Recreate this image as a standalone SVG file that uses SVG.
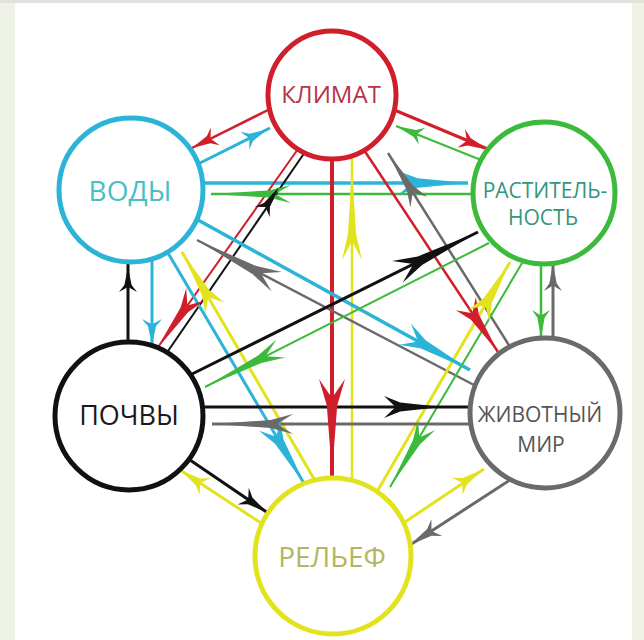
<svg xmlns="http://www.w3.org/2000/svg" xmlns:xlink="http://www.w3.org/1999/xlink" width="644" height="640" viewBox="0 0 644 640">
<style>
.ln{fill:none;stroke-linecap:butt}
.r{stroke:#d01f2a}.c{stroke:#2bb4d7}.g{stroke:#3cba3c}.k{stroke:#111}.s{stroke:#6a6a6a}.y{stroke:#e2e31d}
.fr{fill:#d01f2a}.fc{fill:#2bb4d7}.fg{fill:#3cba3c}.fk{fill:#111}.fs{fill:#6a6a6a}.fy{fill:#e2e31d}
.node circle{fill:#fff;stroke-width:5}
.node text{font-family:"Open Sans","Noto Sans","Liberation Sans",sans-serif;text-anchor:middle}
</style>
<defs>
<path id="ah" d="M0,0 L-0.72,-0.4 L-1,-1 L-0.8,0 L-1,1 L-0.72,0.4 Z"/>
</defs>
<rect x="0" y="0" width="644" height="640" fill="#fff"/>
<rect x="0" y="0" width="15" height="640" fill="#eef1e6"/>
<rect x="632" y="0" width="12" height="640" fill="#eef1e4"/>
<rect x="0" y="0" width="644" height="3" fill="#e2e1dc"/>
<g id="connectors">
<line class="ln r" stroke-width="2.5" x1="270" y1="109" x2="192" y2="148"/>
<line class="ln c" stroke-width="3" x1="198" y1="164" x2="270" y2="128"/>
<line class="ln r" stroke-width="3" x1="392" y1="109" x2="490" y2="150"/>
<line class="ln g" stroke-width="2" x1="486" y1="162" x2="396" y2="126"/>
<line class="ln c" stroke-width="3.5" x1="200" y1="183" x2="468" y2="183"/>
<line class="ln g" stroke-width="2.5" x1="476" y1="194" x2="211" y2="194"/>
<line class="ln r" stroke-width="4" x1="332" y1="155" x2="332" y2="478"/>
<line class="ln y" stroke-width="2.5" x1="352" y1="480" x2="352" y2="155"/>
<line class="ln r" stroke-width="2" x1="298" y1="149" x2="156" y2="350"/>
<line class="ln k" stroke-width="2" x1="166" y1="354" x2="305" y2="152"/>
<line class="ln r" stroke-width="2.5" x1="364" y1="150" x2="498" y2="352"/>
<line class="ln s" stroke-width="2.5" x1="512" y1="350" x2="388" y2="153"/>
<line class="ln c" stroke-width="3" x1="152" y1="258" x2="152" y2="345"/>
<line class="ln k" stroke-width="3" x1="128" y1="344" x2="128" y2="262"/>
<line class="ln c" stroke-width="3.5" x1="198" y1="220" x2="470" y2="370"/>
<line class="ln s" stroke-width="2.5" x1="474" y1="385" x2="197" y2="240"/>
<line class="ln c" stroke-width="3" x1="168" y1="253" x2="305" y2="485"/>
<line class="ln y" stroke-width="3" x1="317" y1="484" x2="182" y2="252"/>
<line class="ln k" stroke-width="3" x1="190" y1="375" x2="478" y2="232"/>
<line class="ln g" stroke-width="2" x1="489" y1="243" x2="205" y2="387"/>
<line class="ln g" stroke-width="2.5" x1="541" y1="260" x2="541" y2="338"/>
<line class="ln s" stroke-width="3" x1="553" y1="340" x2="553" y2="262"/>
<line class="ln g" stroke-width="2" x1="525" y1="258" x2="390" y2="487"/>
<line class="ln y" stroke-width="3" x1="378" y1="490" x2="510" y2="262"/>
<line class="ln k" stroke-width="3" x1="200" y1="407" x2="470" y2="407"/>
<line class="ln s" stroke-width="3" x1="470" y1="424" x2="212" y2="424"/>
<line class="ln k" stroke-width="3" x1="190" y1="460" x2="268" y2="513"/>
<line class="ln y" stroke-width="3" x1="261" y1="523" x2="180" y2="470"/>
<line class="ln y" stroke-width="3" x1="402" y1="524" x2="484" y2="469"/>
<line class="ln s" stroke-width="3" x1="513" y1="478" x2="410" y2="545"/>
<use href="#ah" class="fr" transform="translate(192,148) rotate(153.4) scale(26,10)"/>
<use href="#ah" class="fc" transform="translate(268,129) rotate(-26.6) scale(26,10)"/>
<use href="#ah" class="fr" transform="translate(489,150) rotate(22.4) scale(30,10)"/>
<use href="#ah" class="fg" transform="translate(396,126) rotate(201.4) scale(28,9)"/>
<use href="#ah" class="fc" transform="translate(468,183) rotate(0) scale(70,12)"/>
<use href="#ah" class="fg" transform="translate(211,194) rotate(180) scale(80,9)"/>
<use href="#ah" class="fr" transform="translate(332,474) rotate(90) scale(95,13)"/>
<use href="#ah" class="fy" transform="translate(352,167) rotate(-90) scale(93,10)"/>
<use href="#ah" class="fr" transform="translate(156,350) rotate(125.2) scale(68,11)"/>
<use href="#ah" class="fk" transform="translate(279,187) rotate(-56) scale(30,9)"/>
<use href="#ah" class="fr" transform="translate(498,352) rotate(56.4) scale(58,12)"/>
<use href="#ah" class="fs" transform="translate(388,153) rotate(237.8) scale(58,10)"/>
<use href="#ah" class="fc" transform="translate(152,345) rotate(90) scale(26,10)"/>
<use href="#ah" class="fk" transform="translate(128,267) rotate(-90) scale(25,9)"/>
<use href="#ah" class="fc" transform="translate(470,370) rotate(28.8) scale(74,12)"/>
<use href="#ah" class="fs" transform="translate(197,240) rotate(207.6) scale(90,11)"/>
<use href="#ah" class="fc" transform="translate(305,485) rotate(59.4) scale(70,12)"/>
<use href="#ah" class="fy" transform="translate(182,252) rotate(239.7) scale(65,11)"/>
<use href="#ah" class="fk" transform="translate(478,232) rotate(-26.3) scale(90,12)"/>
<use href="#ah" class="fg" transform="translate(205,387) rotate(153.1) scale(85,10)"/>
<use href="#ah" class="fg" transform="translate(541,338) rotate(90) scale(28,9)"/>
<use href="#ah" class="fs" transform="translate(553,263) rotate(-90) scale(28,9)"/>
<use href="#ah" class="fg" transform="translate(390,487) rotate(120.6) scale(72,10)"/>
<use href="#ah" class="fy" transform="translate(510,262) rotate(-60) scale(62,12)"/>
<use href="#ah" class="fk" transform="translate(442,407) rotate(0) scale(58,11)"/>
<use href="#ah" class="fs" transform="translate(213,424) rotate(180) scale(80,10)"/>
<use href="#ah" class="fk" transform="translate(268,513) rotate(34.2) scale(30,10)"/>
<use href="#ah" class="fy" transform="translate(180,470) rotate(213.2) scale(30,10)"/>
<use href="#ah" class="fy" transform="translate(484,469) rotate(-32.7) scale(32,10)"/>
<use href="#ah" class="fs" transform="translate(410,545) rotate(147) scale(32,10)"/>
</g>
<g id="klimat" class="node"><circle cx="332" cy="95" r="64" stroke="#d01f2a"/><text x="331" y="103" font-size="24" fill="#b8324a">КЛИМАТ</text></g>
<g id="vody" class="node"><circle cx="131" cy="190" r="72" stroke="#2bb4d7"/><text x="130" y="201" font-size="28" fill="#48bfc4">ВОДЫ</text></g>
<g id="rastitelnost" class="node"><circle cx="544" cy="193" r="71" stroke="#3cba3c"/><text x="545" y="198" font-size="21" fill="#35957c">РАСТИТЕЛЬ-</text><text x="543" y="225" font-size="21" fill="#35957c">НОСТЬ</text></g>
<g id="pochvy" class="node"><circle cx="129" cy="416" r="74" stroke="#111"/><text x="129" y="425" font-size="27" fill="#1a1a1a">ПОЧВЫ</text></g>
<g id="zhivotny" class="node"><circle cx="545" cy="413" r="75" stroke="#6a6a6a"/><text x="540" y="422" font-size="21" fill="#555">ЖИВОТНЫЙ</text><text x="541" y="452" font-size="21" fill="#555">МИР</text></g>
<g id="relief" class="node"><circle cx="333" cy="556" r="78" stroke="#e2e31d"/><text x="332" y="567" font-size="28" fill="#b3b660">РЕЛЬЕФ</text></g>
</svg>
